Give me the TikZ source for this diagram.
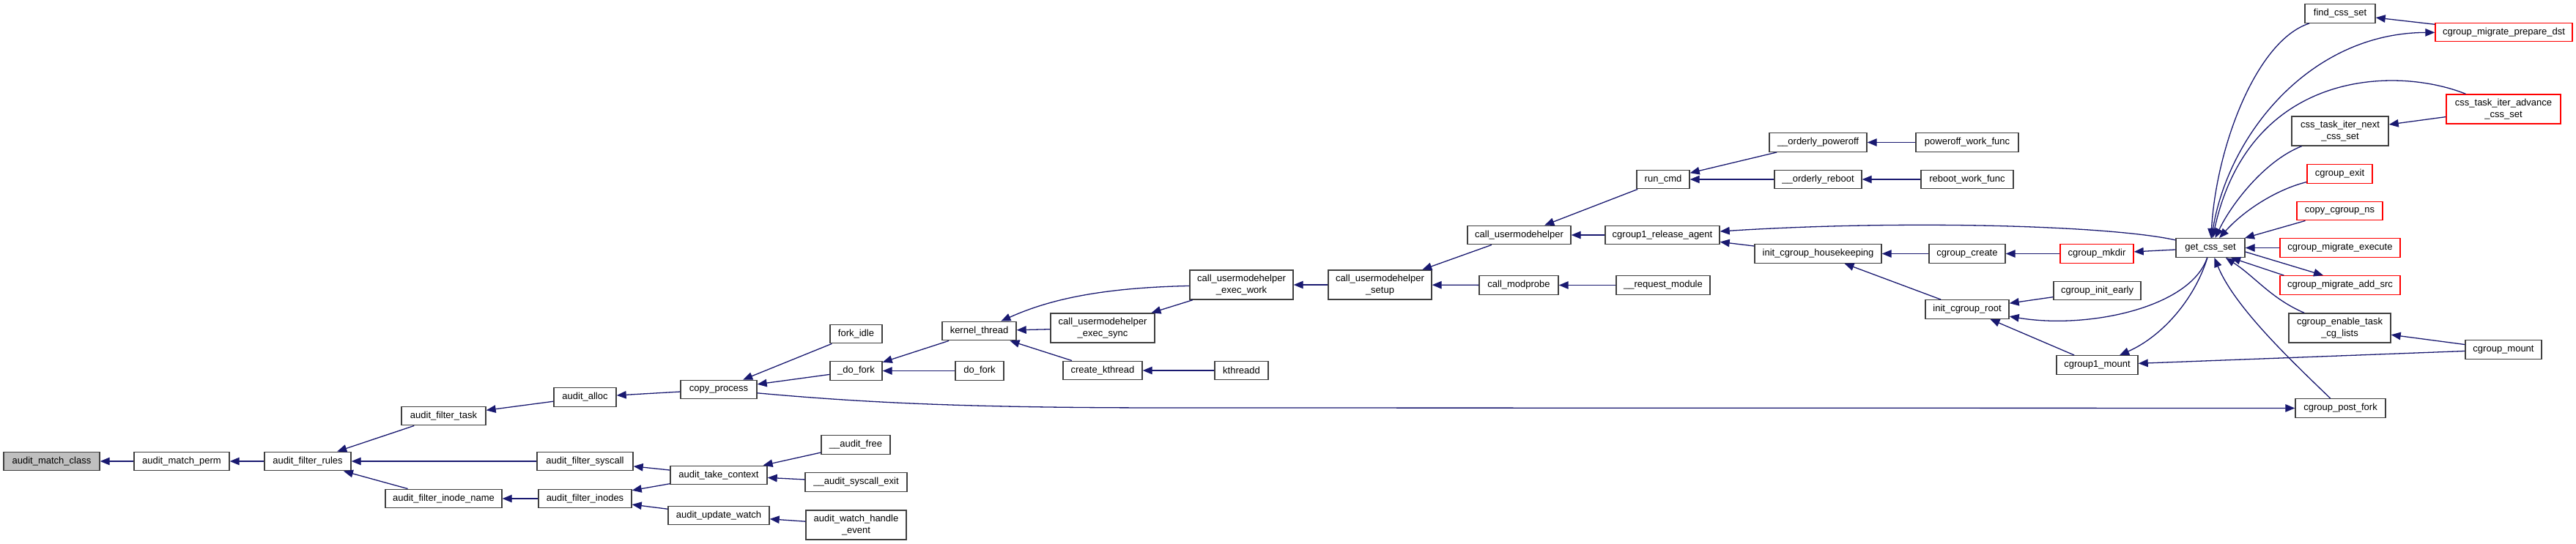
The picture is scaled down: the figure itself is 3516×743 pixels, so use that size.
\documentclass[tikz,border=0pt]{standalone}
\usepackage{fontspec}
\setmainfont{Liberation Sans}
\usetikzlibrary{arrows.meta}
\definecolor{edgec}{HTML}{191970}
\definecolor{bordc}{HTML}{404040}
\definecolor{redc}{HTML}{FF0000}
\definecolor{curc}{HTML}{BFBFBF}
\begin{document}
\begin{tikzpicture}[x=1pt,y=-1pt,
  box/.style={draw=bordc, line width=1.4pt, fill=white, inner sep=0pt, minimum height=25.5pt, font=\fontsize{13}{15.3}\selectfont, align=center},
  boxtwo/.style={box, minimum height=40pt},
  redbox/.style={box, draw=redc},
  redboxtwo/.style={boxtwo, draw=redc},
  curbox/.style={box, fill=curc},
  arr/.style={draw=edgec, line width=1.3pt, -{Triangle[length=13pt,width=10.5pt]}}]
\useasboundingbox (0,0) rectangle (3516,743);
% nodes
\node[curbox, minimum width=131pt] (amclass) at (70.5,630) {audit\_match\_class};
\node[box, minimum width=130pt] (perm) at (248,630) {audit\_match\_perm};
\node[box, minimum width=118pt] (rules) at (420,630) {audit\_filter\_rules};
\node[box, minimum width=115pt] (ftask) at (605.5,568) {audit\_filter\_task};
\node[box, minimum width=159pt] (finode) at (605.5,681) {audit\_filter\_inode\_name};
\node[box, minimum width=85pt] (alloc) at (798.5,542.5) {audit\_alloc};
\node[box, minimum width=131pt] (fsys) at (798.5,630) {audit\_filter\_syscall};
\node[box, minimum width=127pt] (finodes) at (798.5,681) {audit\_filter\_inodes};
\node[box, minimum width=104pt] (copyp) at (981,532) {copy\_process};
\node[box, minimum width=132pt] (take) at (981,649) {audit\_take\_context};
\node[box, minimum width=138pt] (upd) at (981,704) {audit\_update\_watch};
\node[box, minimum width=71pt] (forkidle) at (1168.5,456) {fork\_idle};
\node[box, minimum width=71pt] (dofrk) at (1168.5,506.5) {\_do\_fork};
\node[box, minimum width=94pt] (afree) at (1168,607.5) {\_\_audit\_free};
\node[box, minimum width=139pt] (sysexit) at (1168.5,658.5) {\_\_audit\_syscall\_exit};
\node[boxtwo, minimum width=137pt] (whe) at (1168.5,717) {audit\_watch\_handle\\\_event};
\node[box, minimum width=101pt] (kthread) at (1336.5,452) {kernel\_thread};
\node[box, minimum width=66pt] (dofork) at (1337,506.5) {do\_fork};
\node[boxtwo, minimum width=142pt] (esync) at (1505,448) {call\_usermodehelper\\\_exec\_sync};
\node[box, minimum width=108pt] (ckthread) at (1505,506) {create\_kthread};
\node[boxtwo, minimum width=141pt] (ework) at (1694.5,389) {call\_usermodehelper\\\_exec\_work};
\node[box, minimum width=73pt] (kthreadd) at (1694.5,506) {kthreadd};
\node[boxtwo, minimum width=141pt] (setup) at (1883.5,389) {call\_usermodehelper\\\_setup};
\node[box, minimum width=141pt] (cuh) at (2073.5,321) {call\_usermodehelper};
\node[box, minimum width=108pt] (modprobe) at (2073,389.5) {call\_modprobe};
\node[box, minimum width=72pt] (runcmd) at (2270,245) {run\_cmd};
\node[box, minimum width=156pt] (relagent) at (2269,321) {cgroup1\_release\_agent};
\node[box, minimum width=128pt] (reqmod) at (2270,389.5) {\_\_request\_module};
\node[box, minimum width=133pt] (poweroff) at (2481.5,194.5) {\_\_orderly\_poweroff};
\node[box, minimum width=119pt] (reboot) at (2481.5,245) {\_\_orderly\_reboot};
\node[box, minimum width=173pt] (housekeep) at (2481.5,346.5) {init\_cgroup\_housekeeping};
\node[box, minimum width=140pt] (pwf) at (2685,194.5) {poweroff\_work\_func};
\node[box, minimum width=126pt] (rwf) at (2685,245) {reboot\_work\_func};
\node[box, minimum width=104pt] (create) at (2685,346.5) {cgroup\_create};
\node[box, minimum width=114pt] (root) at (2685,422.5) {init\_cgroup\_root};
\node[redbox, minimum width=100pt] (mkdir) at (2862,346.5) {cgroup\_mkdir};
\node[box, minimum width=119pt] (early) at (2862.5,397) {cgroup\_init\_early};
\node[box, minimum width=111pt] (mountone) at (2862.5,498.5) {cgroup1\_mount};
\node[box, minimum width=94pt] (gcs) at (3017,338.5) {get\_css\_set};
\node[box, minimum width=96pt] (find) at (3194,18.5) {find\_css\_set};
\node[boxtwo, minimum width=132pt] (next) at (3194,179) {css\_task\_iter\_next\\\_css\_set};
\node[redbox, minimum width=89pt] (cexit) at (3193.5,237.5) {cgroup\_exit};
\node[redbox, minimum width=117pt] (ns) at (3193.5,288) {copy\_cgroup\_ns};
\node[redbox, minimum width=164pt] (exec) at (3194,338.5) {cgroup\_migrate\_execute};
\node[redbox, minimum width=164pt] (addsrc) at (3194,389.5) {cgroup\_migrate\_add\_src};
\node[boxtwo, minimum width=139pt] (enable) at (3193.5,448) {cgroup\_enable\_task\\\_cg\_lists};
\node[box, minimum width=123pt] (postfork) at (3194.5,557.5) {cgroup\_post\_fork};
\node[redbox, minimum width=187pt] (prepdst) at (3417.5,44) {cgroup\_migrate\_prepare\_dst};
\node[redboxtwo, minimum width=156pt] (advance) at (3417,149) {css\_task\_iter\_advance\\\_css\_set};
\node[box, minimum width=104pt] (mount) at (3417,477.5) {cgroup\_mount};
% edges
\draw[arr] (perm) -- (amclass);
\draw[arr] (rules) -- (perm);
\draw[arr] (ftask) -- (rules);
\draw[arr] (fsys) -- (rules);
\draw[arr] (finode) -- (rules);
\draw[arr] (alloc) -- (ftask);
\draw[arr] (copyp) -- (alloc);
\draw[arr] (finodes) -- (finode);
\draw[arr] (take) -- (fsys);
\draw[arr] (take) -- (finodes);
\draw[arr] (upd) -- (finodes);
\draw[arr] (forkidle) -- (copyp);
\draw[arr] (dofrk) -- (copyp);
\draw[arr] (afree) -- (take);
\draw[arr] (sysexit) -- (take);
\draw[arr] (whe) -- (upd);
\draw[arr] (kthread) -- (dofrk);
\draw[arr] (dofork) -- (dofrk);
\draw[arr] (ework) .. controls (1500,393) and (1430,410) .. (kthread);
\draw[arr] (esync) -- (kthread);
\draw[arr] (ckthread) -- (kthread);
\draw[arr] (ework) -- (esync);
\draw[arr] (kthreadd) -- (ckthread);
\draw[arr] (setup) -- (ework);
\draw[arr] (cuh) -- (setup);
\draw[arr] (modprobe) -- (setup);
\draw[arr] (reqmod) -- (modprobe);
\draw[arr] (runcmd) -- (cuh);
\draw[arr] (relagent) -- (cuh);
\draw[arr] (poweroff) -- (runcmd);
\draw[arr] (reboot) -- (runcmd);
\draw[arr] (pwf) -- (poweroff);
\draw[arr] (rwf) -- (reboot);
\draw[arr] (gcs) .. controls (2880,308) and (2600,300) .. (relagent);
\draw[arr] (housekeep) -- (relagent);
\draw[arr] (create) -- (housekeep);
\draw[arr] (root) -- (housekeep);
\draw[arr] (mkdir) -- (create);
\draw[arr] (gcs) -- (mkdir);
\draw[arr] (early) -- (root);
\draw[arr] (gcs) .. controls (2990,420) and (2850,450) .. (root);
\draw[arr] (mountone) -- (root);
\draw[arr] (gcs) .. controls (2995,410) and (2950,460) .. (mountone);
\draw[arr] (mount) -- (mountone);
\draw[arr] (copyp) .. controls (1200,552) and (1350,557) .. (1600,557) -- (postfork);
\draw[arr] (find) .. controls (3080,55) and (3025,200) .. (gcs);
\draw[arr] (gcs) .. controls (3035,190) and (3150,45) .. (prepdst);
\draw[arr] (advance) .. controls (3270,90) and (3070,95) .. (gcs);
\draw[arr] (next) .. controls (3090,220) and (3045,280) .. (gcs);
\draw[arr] (cexit) .. controls (3110,258) and (3065,285) .. (gcs);
\draw[arr] (ns) -- (gcs);
\draw[arr] (exec) -- (gcs);
\draw[arr] ([xshift=6pt]addsrc.north west) -- ([xshift=28pt]gcs.south);
\draw[arr] ([yshift=-5.5pt]gcs.east) -- ([xshift=-23pt]addsrc.north);
\draw[arr] (enable) .. controls (3100,408) and (3078,378) .. (gcs);
\draw[arr] (postfork) .. controls (3130,495) and (3050,420) .. (gcs);
\draw[arr] (mount) -- (enable);
\draw[arr] (prepdst) -- (find);
\draw[arr] (advance) -- (next);
\end{tikzpicture}
\end{document}
